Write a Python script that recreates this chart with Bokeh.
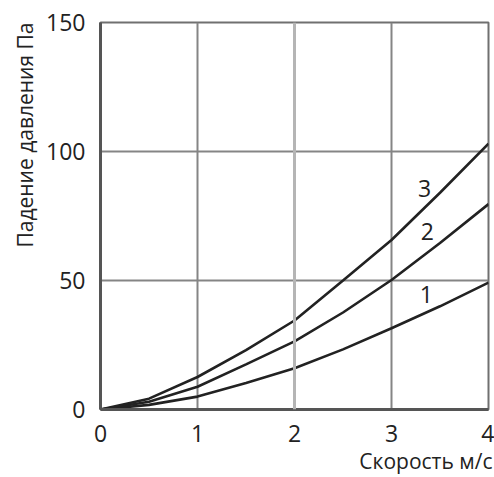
from bokeh.plotting import figure
from bokeh.models import Title, FixedTicker, Span
from bokeh.core.properties import value
from bokeh.embed import file_html
from bokeh.resources import INLINE

# Pressure drop (Pa) versus air velocity (m/s) for three filter variants
speed = [0, 0.5, 1, 1.5, 2, 2.5, 3, 3.5, 4]
curve_1 = [0, 1.8, 5.0, 10.3, 16.0, 23.3, 31.5, 40.0, 49.2]
curve_2 = [0, 3.0, 8.8, 17.5, 26.4, 37.6, 50.2, 64.5, 79.6]
curve_3 = [0, 4.2, 12.6, 23.0, 34.5, 50.0, 65.7, 84.0, 103.0]

curve_names = ["1", "2", "3"]
name_x = [3.36, 3.37, 3.34]
name_y = [44.5, 68.8, 85.8]

x_ticks = [0, 1, 2, 3, 4]
y_ticks = [0, 50, 100, 150]

x_title = "Скорость м/с"
y_title = "Падение давления Па"

FONT = "Open Sans"
TEXT = "#222222"
GRID = "#858585"

p = figure(
    width=494, height=477,
    x_range=(0, 4), y_range=(0, 150),
    output_backend="svg", toolbar_location=None,
    min_border_left=100, min_border_right=6,
    min_border_top=22, min_border_bottom=68,
    background_fill_color="white", border_fill_color="white",
)

p.outline_line_color = "#707070"
p.outline_line_width = 2

for ax in (p.xaxis, p.yaxis):
    ax.axis_line_color = "#555555"
    ax.axis_line_width = 3
    ax.major_tick_line_color = None
    ax.minor_tick_line_color = None
    ax.major_label_text_font = FONT
    ax.major_label_text_font_size = "23px"
    ax.major_label_text_color = TEXT

p.xaxis.ticker = FixedTicker(ticks=x_ticks)
p.yaxis.ticker = FixedTicker(ticks=y_ticks)
p.xaxis.major_label_standoff = 9
p.yaxis.major_label_standoff = 9

p.xgrid.ticker = FixedTicker(ticks=x_ticks)
p.ygrid.ticker = FixedTicker(ticks=y_ticks)
for g in (p.xgrid, p.ygrid):
    g.grid_line_color = GRID
    g.grid_line_width = 2

# the middle vertical rule is printed lighter
p.add_layout(Span(location=2, dimension="height", line_color="#b5b5b5", line_width=3))

for ys in (curve_1, curve_2, curve_3):
    p.line(speed, ys, line_color="#222222", line_width=2.6)

p.text(x=name_x, y=name_y, text=curve_names,
       text_font=value(FONT), text_font_size="23px", text_color=TEXT,
       text_align="center", text_baseline="middle")

# axis titles: horizontal one flush right, vertical one flush top
p.add_layout(Title(text=x_title, align="right", text_font=FONT,
                   text_font_size="21px", text_font_style="normal",
                   text_color=TEXT, standoff=0, offset=-4), "below")
p.add_layout(Title(text=y_title, align="right", text_font=FONT,
                   text_font_size="21px", text_font_style="normal",
                   text_color=TEXT, standoff=9), "left")

open("out.html", "w").write(file_html(p, INLINE))
